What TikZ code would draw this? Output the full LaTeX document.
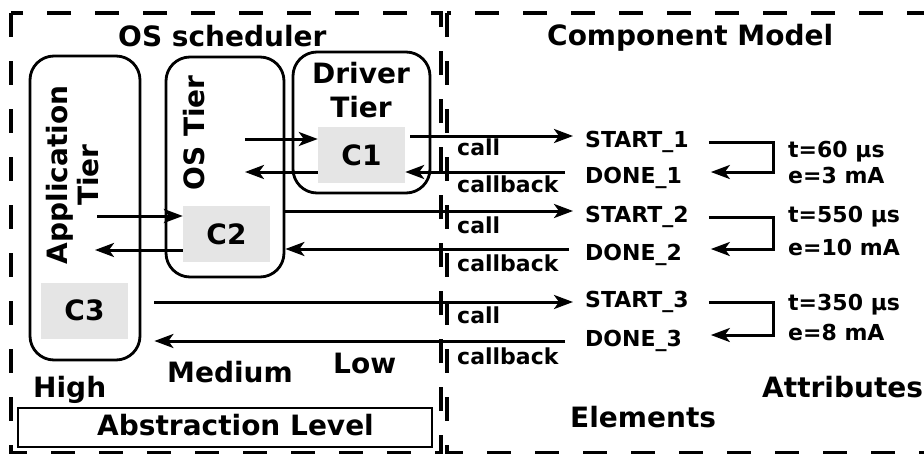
\documentclass[tikz,border=0pt]{standalone}
\usepackage{fontspec}
\setmainfont{DejaVu Sans}
\usepackage{tikz}
\usetikzlibrary{arrows.meta, positioning, calc}

\begin{document}
\begin{tikzpicture}[x=1pt, y=-1pt,
  big/.style={font=\bfseries\fontsize{28}{31}\selectfont, inner sep=0pt},
  small/.style={font=\bfseries\fontsize{22}{24}\selectfont, inner sep=0pt},
  txt/.style={small, anchor=base west},
  tier/.style={draw, line width=2.8pt, rounded corners=24pt, inner sep=0pt},
  comp/.style={big, fill=black!10, minimum width=87pt, minimum height=56pt},
  elem/.style={small, anchor=base west, inner xsep=12pt, text height=22pt, text depth=0pt},
  sig/.style={line width=3pt, -{Stealth[length=19pt, width=14pt, inset=5pt]}},
  dashframe/.style={line width=3.5pt, dash pattern=on 24pt off 24pt}]
  \useasboundingbox (0,0) rectangle (924,453);

  % Frames
  \begin{scope}
    \clip (0,0) rectangle (924,453);
    \draw[dashframe] (11,13) rectangle (441,453);
    \draw[dashframe] (447,13) rectangle (945,453);
  \end{scope}
  \node[big, anchor=base west] (sched) at (118,46) {OS scheduler};
  \node[big, anchor=base west] (cmodel) at (547,45) {Component Model};

  % Tiers
  \node[tier, minimum width=110pt, minimum height=304pt] (app) at (85,208) {};
  \node[tier, minimum width=118pt, minimum height=220pt] (os) at (225,167) {};
  \node[tier, minimum width=137pt, minimum height=141pt] (drv) at (361.5,122.5) {};
  \node[big, rotate=90, align=center] (apptier) at (73,175) {Application\\Tier};
  \node[big, rotate=90] (ostier) at (194,133) {OS Tier};
  \node[big, align=center] (drvtier) at (361,90) {Driver\\[3pt]Tier};

  % Components
  \node[comp] (c1) at (361.5,155) {C1};
  \node[comp] (c2) at (226.5,234) {C2};
  \node[comp] (c3) at (84.5,310.5) {C3};

  % Elements
  \node[elem] (start1) at (573,147) {START\_1};
  \node[elem] (done1) at (573,183) {DONE\_1};
  \node[elem] (start2) at (573,222) {START\_2};
  \node[elem] (done2) at (573,260) {DONE\_2};
  \node[elem] (start3) at (573,307) {START\_3};
  \node[elem] (done3) at (573,346) {DONE\_3};

  % Attributes
  \node[txt] (t1) at (788,157) {t=60 µs};
  \node[txt] (e1) at (788,183) {e=3 mA};
  \node[txt] (t2) at (788,222) {t=550 µs};
  \node[txt] (e2) at (788,255) {e=10 mA};
  \node[txt] (t3) at (788,310) {t=350 µs};
  \node[txt] (e3) at (788,340) {e=8 mA};
  \draw[sig] ([shift={(8,6)}]start1.east) -- ++(65,0) |- ([xshift=10pt]start1.east |- done1.east);
  \draw[sig] ([shift={(8,6)}]start2.east) -- ++(65,0) |- ([xshift=10pt]start2.east |- done2.east);
  \draw[sig] ([shift={(8,6)}]start3.east) -- ++(65,0) |- ([xshift=10pt]start3.east |- done3.east);

  % Inside the scheduler
  \coordinate (osin) at (245,139);
  \coordinate (osout) at (245,172);
  \coordinate (appin) at (97,216);
  \coordinate (appout) at (95,250);
  \draw[sig] (osin) -- (osin -| c1.west);
  \draw[sig] (c1.west |- osout) -- (osout);
  \draw[sig] (appin) -- (appin -| c2.west);
  \draw[sig] (c2.west |- appout) -- (appout);

  % Calls and callbacks
  \draw[sig] ([xshift=5pt]c1.east |- start1.west) -- (start1.west);
  \draw[sig] ([xshift=-8pt]done1.west) -- (done1.west -| c1.east);
  \draw[sig] (os.east |- start2.west) -- (start2.west);
  \draw[sig] ([xshift=-4pt]done2.west) -- (done2.west -| os.east);
  \draw[sig] ($(app.east |- start3.west)+(13,6)$) -- ([yshift=-6pt]start3.west);
  \draw[sig] ([shift={(-8,6)}]done3.west) -- ($(app.east |- done3.west)+(13,6)$);
  \node[txt] (call1) at (457,155) {call};
  \node[txt] (back1) at (457,192) {callback};
  \node[txt] (call2) at (457,233) {call};
  \node[txt] (back2) at (457,271) {callback};
  \node[txt] (call3) at (457,323) {call};
  \node[txt] (back3) at (457,364) {callback};

  % Abstraction levels
  \node[big, anchor=base west] (high) at (33,397) {High};
  \node[big, anchor=base west] (medium) at (167,382) {Medium};
  \node[big, anchor=base west] (low) at (333,373) {Low};
  \node[draw, line width=2.2pt, minimum width=414pt, minimum height=39pt] (levelbox) at (225,427.5) {};
  \node[big, anchor=base west] (level) at (97,435) {Abstraction Level};
  \node[big, anchor=base west] (attrs) at (762,397) {Attributes};
  \node[big, anchor=base west] (elems) at (570,427) {Elements};
\end{tikzpicture}
\end{document}
